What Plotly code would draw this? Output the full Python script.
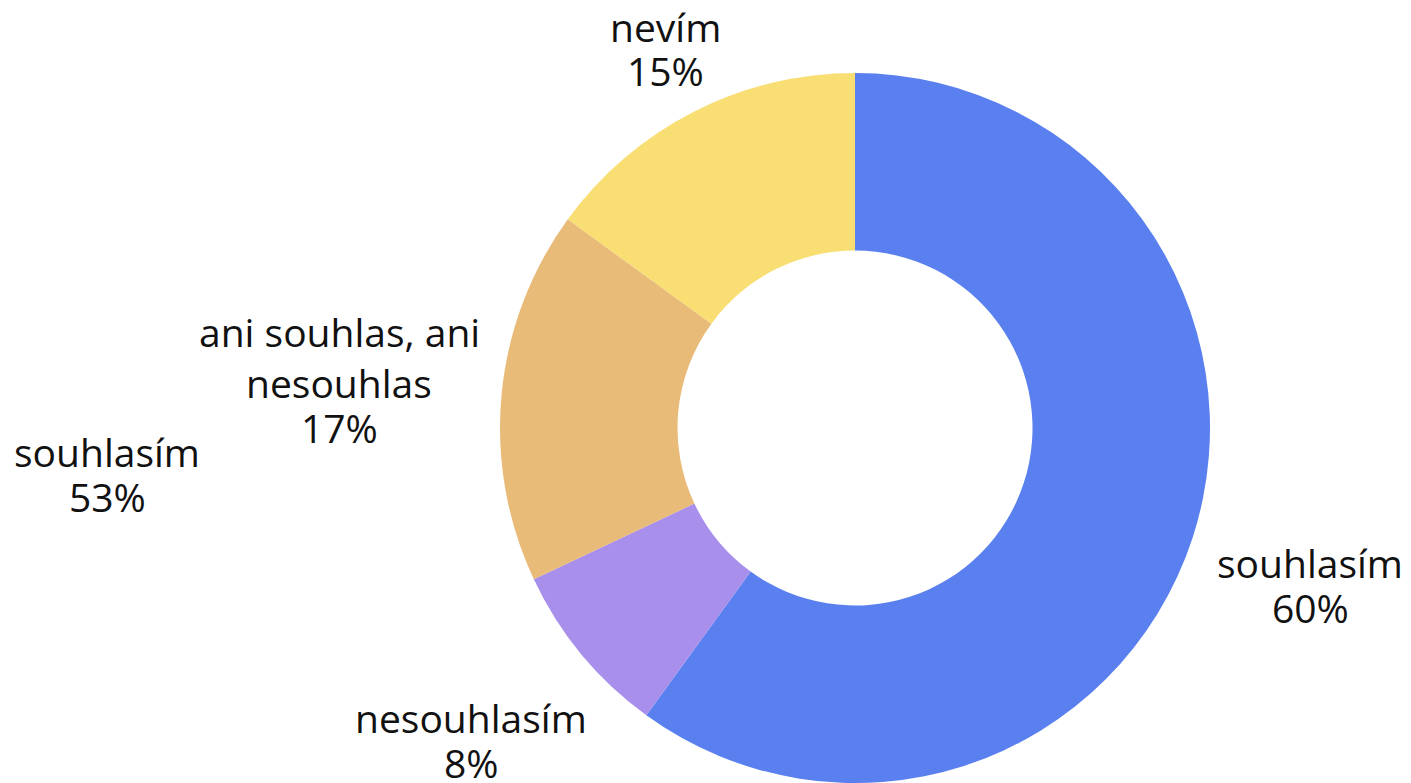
import plotly.graph_objects as go

# ---- data ----
categories = ["souhlasím", "nesouhlasím", "ani souhlas, ani<br>nesouhlas", "nevím"]
values = [60, 8, 17, 15]
colors = ["#5A80EF", "#A98FEC", "#E8BB78", "#F9DE74"]

# label of a neighbouring (cropped) chart
side_label = "souhlasím"
side_value = 53

W, H = 1411, 783
# pie placement (pixels)
CX, CY, R = 855, 428, 355

fig = go.Figure()
fig.add_trace(go.Pie(
    labels=categories,
    values=values,
    marker=dict(colors=colors, line=dict(width=0)),
    hole=0.5,
    sort=False,
    direction="clockwise",
    rotation=0,
    textinfo="none",
    hoverinfo="label+percent",
    showlegend=False,
    domain=dict(x=[(CX - R) / W, (CX + R) / W], y=[(H - CY - R) / H, (H - CY + R) / H]),
))

FS = 39
font = dict(family="Open Sans", size=FS, color="#111111")

# label placement: centre x, first baseline y, line gaps (pixels from top-left)
label_x = [1310, 471, 339, 665]
label_base = [578, 733, 347, 42]
label_gaps = [[45], [45], [51, 45], [44]]

def add_block(lines, x, base, gaps):
    y = base
    for i, line in enumerate(lines):
        if i > 0:
            y += gaps[i - 1]
        fig.add_annotation(
            x=x / W, y=1 - (y - 0.39 * FS) / H, xref="paper", yref="paper",
            text=line, showarrow=False, xanchor="center", yanchor="middle",
            align="center", font=font, borderpad=0,
        )

total = sum(values)
for cat, val, x, b, g in zip(categories, values, label_x, label_base, label_gaps):
    lines = cat.split("<br>") + [f"{round(val / total * 100)}%"]
    add_block(lines, x, b, g)

add_block([side_label, f"{side_value}%"], 107, 467, [45])

fig.update_layout(
    width=W, height=H,
    margin=dict(l=0, r=0, t=0, b=0),
    paper_bgcolor="white", plot_bgcolor="white",
)

fig.write_html("out.html", config={"displayModeBar": False},
               post_script="document.body.style.margin='0';")
